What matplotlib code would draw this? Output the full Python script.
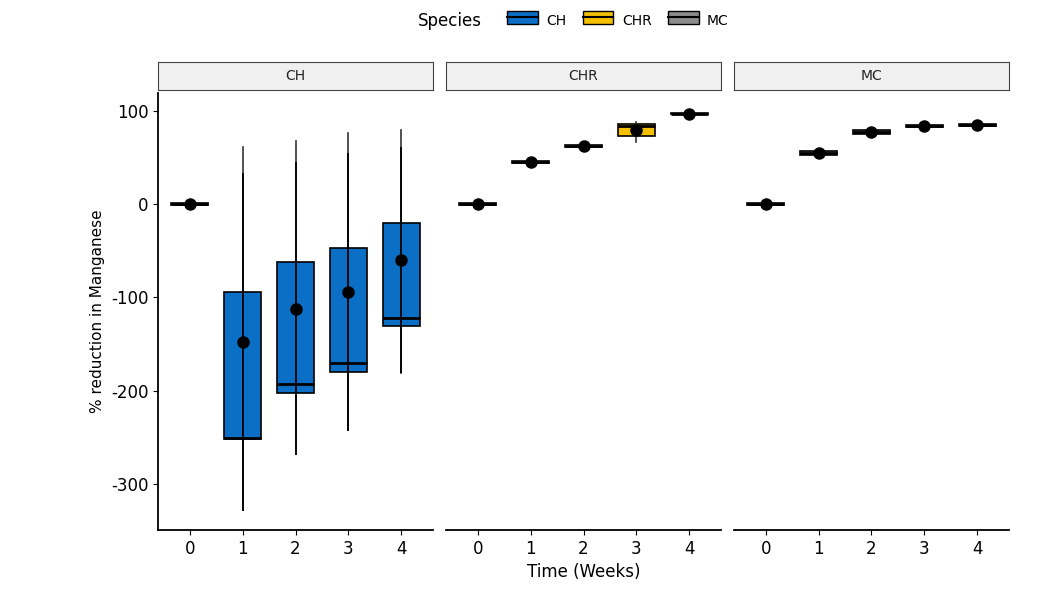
import matplotlib
matplotlib.use("Agg")
import matplotlib.pyplot as plt
from matplotlib.patches import Patch, Rectangle
from matplotlib.legend_handler import HandlerPatch
import matplotlib.lines as mlines

plt.rcParams["axes.unicode_minus"] = False

weeks = [0, 1, 2, 3, 4]
species = ["CH", "CHR", "MC"]
colors = {"CH": "#0b6fc6", "CHR": "#f5c000", "MC": "#8c8c8c"}

# box stats per species: q1, q3, median, whisker low, whisker high, mean, sd
ch_q1 = [-1, -252, -202, -180, -131]
ch_q3 = [1, -94, -62, -47, -20]
ch_med = [0, -250, -193, -170, -122]
ch_wlo = [-1, -328, -268, -242, -181]
ch_whi = [1, 61, 68, 76, 79]
ch_mean = [0, -148, -112, -94, -60]
ch_sd = [0, 181, 157, 149, 121]

chr_q1 = [-1, 44, 61, 73, 96]
chr_q3 = [1, 46, 63, 86, 98]
chr_med = [0, 45, 62, 84, 97]
chr_wlo = [-1, 44, 61, 66, 96]
chr_whi = [1, 46, 63, 88, 98]
chr_mean = [0, 45, 62, 79, 97]
chr_sd = [0, 1, 1, 6, 1]

mc_q1 = [-1, 53, 75, 83, 84]
mc_q3 = [1, 57, 79, 85, 86]
mc_med = [0, 55, 77, 84, 85]
mc_wlo = [-1, 53, 75, 83, 84]
mc_whi = [1, 57, 79, 85, 86]
mc_mean = [0, 55, 77, 84, 85]
mc_sd = [0, 1, 1, 1, 1]

data = {
    "CH": (ch_q1, ch_q3, ch_med, ch_wlo, ch_whi, ch_mean, ch_sd),
    "CHR": (chr_q1, chr_q3, chr_med, chr_wlo, chr_whi, chr_mean, chr_sd),
    "MC": (mc_q1, mc_q3, mc_med, mc_wlo, mc_whi, mc_mean, mc_sd),
}

fig = plt.figure(figsize=(10.39, 5.97), dpi=100)
W, H = 1039, 597
panels_x = [158, 446, 734]
pw = 275
top, bottom = 93, 530
strip_h = 28

axes = []
for i, sp in enumerate(species):
    ax = fig.add_axes([panels_x[i] / W, 1 - bottom / H, pw / W, (bottom - top) / H],
                      sharey=axes[0] if axes else None)
    axes.append(ax)
    q1, q3, med, wlo, whi, mean, sd = data[sp]
    stats = [dict(q1=q1[k], q3=q3[k], med=med[k], whislo=wlo[k], whishi=whi[k], fliers=[])
             for k in range(len(weeks))]
    ax.bxp(stats, positions=weeks, widths=0.7, showcaps=False, patch_artist=True,
           boxprops=dict(facecolor=colors[sp], edgecolor="black", linewidth=1.2),
           medianprops=dict(color="black", linewidth=2),
           whiskerprops=dict(color="#333333", linewidth=1.2))
    ax.errorbar(weeks, mean, yerr=sd, fmt="o", color="black", ms=8,
                elinewidth=1.3, capsize=0)
    ax.set_xlim(-0.6, 4.6)
    ax.set_ylim(-349, 119)
    ax.set_xticks(weeks)
    ax.set_xticklabels([str(w) for w in weeks], fontsize=12)
    for s in ["top", "right"]:
        ax.spines[s].set_visible(False)
    ax.spines["bottom"].set_linewidth(1.3)
    ax.spines["left"].set_linewidth(1.3)
    if i > 0:
        ax.spines["left"].set_visible(False)
        ax.tick_params(axis="y", left=False, labelleft=False)
    # strip
    sax = fig.add_axes([panels_x[i] / W, 1 - (top - 3) / H, pw / W, strip_h / H])
    sax.set_facecolor("#f0f0f0")
    sax.set_xticks([])
    sax.set_yticks([])
    for s in sax.spines.values():
        s.set_color("#444444")
    sax.text(0.5, 0.5, sp, ha="center", va="center", fontsize=10, color="#222222",
             transform=sax.transAxes)

axes[0].set_yticks([100, 0, -100, -200, -300])
axes[0].tick_params(axis="y", labelsize=12)
axes[0].set_ylabel("% reduction in Manganese", fontsize=11)
fig.text(584 / W, 1 - 572 / H, "Time (Weeks)", ha="center", va="center", fontsize=12)


class HandlerBox(HandlerPatch):
    def create_artists(self, legend, orig, xd, yd, width, height, fontsize, trans):
        r = Rectangle((xd, yd), width, height, facecolor=orig.get_facecolor(),
                      edgecolor="black", lw=1, transform=trans)
        l = mlines.Line2D([xd, xd + width], [yd + height / 2] * 2, color="black",
                          lw=1.5, transform=trans)
        return [r, l]


handles = [Patch(facecolor=colors[s], label=s) for s in species]
fig.text(418 / W, 1 - 21 / H, "Species", ha="left", va="center", fontsize=12)
fig.legend(handles=handles, loc="center", bbox_to_anchor=(618 / W, 1 - 21 / H),
           ncol=3, frameon=False, fontsize=10, handlelength=2.2, handleheight=1.0,
           handler_map={Patch: HandlerBox()}, columnspacing=1.2, handletextpad=0.6)

fig.savefig("out.png", dpi=100)
